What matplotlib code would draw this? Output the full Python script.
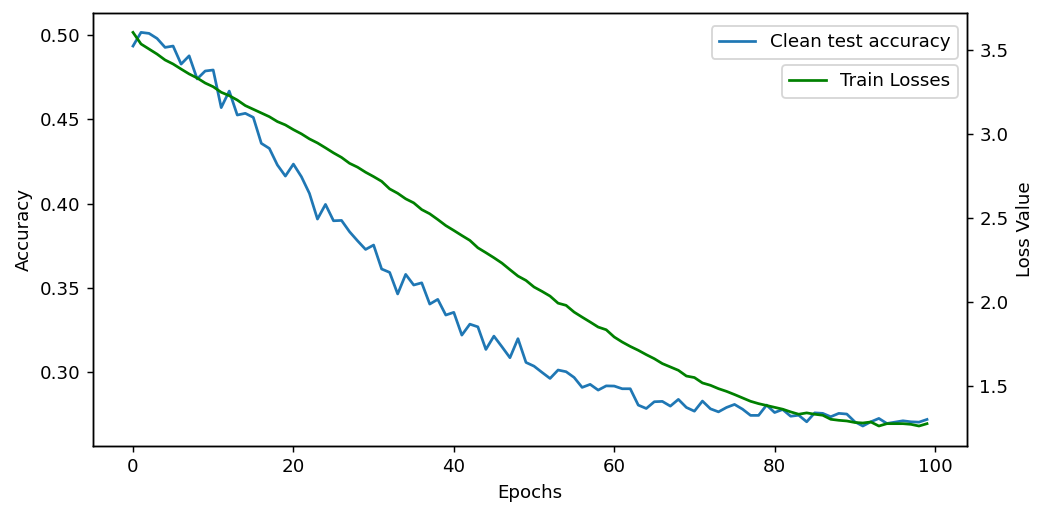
import matplotlib
matplotlib.use("Agg")
import matplotlib.pyplot as plt
import numpy as np

# Per-epoch clean test accuracy
accuracy = [
    0.4935, 0.5016, 0.5010, 0.4980, 0.4927, 0.4935, 0.4828, 0.4877, 0.4740, 0.4787,
    0.4793, 0.4570, 0.4668, 0.4526, 0.4536, 0.4512, 0.4358, 0.4328, 0.4230, 0.4164,
    0.4235, 0.4160, 0.4061, 0.3909, 0.3996, 0.3899, 0.3901, 0.3834, 0.3780, 0.3729,
    0.3755, 0.3613, 0.3593, 0.3465, 0.3581, 0.3518, 0.3531, 0.3405, 0.3433, 0.3340,
    0.3356, 0.3221, 0.3286, 0.3270, 0.3136, 0.3215, 0.3152, 0.3087, 0.3200, 0.3059,
    0.3037, 0.3000, 0.2964, 0.3014, 0.3004, 0.2970, 0.2911, 0.2929, 0.2895, 0.2920,
    0.2919, 0.2903, 0.2903, 0.2806, 0.2786, 0.2826, 0.2828, 0.2800, 0.2840, 0.2792,
    0.2770, 0.2830, 0.2784, 0.2766, 0.2792, 0.2810, 0.2782, 0.2745, 0.2745, 0.2806,
    0.2762, 0.2780, 0.2740, 0.2746, 0.2707, 0.2760, 0.2757, 0.2737, 0.2757, 0.2753,
    0.2707, 0.2682, 0.2707, 0.2727, 0.2697, 0.2705, 0.2713, 0.2707, 0.2705, 0.2721,
]

# Per-epoch training loss
train_loss = [
    3.603, 3.534, 3.504, 3.474, 3.439, 3.415, 3.385, 3.356, 3.332, 3.302,
    3.280, 3.247, 3.227, 3.201, 3.168, 3.146, 3.124, 3.102, 3.073, 3.053,
    3.025, 3.000, 2.970, 2.946, 2.917, 2.887, 2.860, 2.825, 2.802, 2.772,
    2.746, 2.718, 2.673, 2.647, 2.614, 2.590, 2.550, 2.525, 2.491, 2.455,
    2.426, 2.396, 2.367, 2.323, 2.294, 2.264, 2.232, 2.193, 2.155, 2.129,
    2.090, 2.064, 2.036, 1.994, 1.981, 1.941, 1.911, 1.882, 1.852, 1.836,
    1.793, 1.763, 1.737, 1.714, 1.688, 1.664, 1.635, 1.615, 1.595, 1.561,
    1.552, 1.520, 1.506, 1.486, 1.470, 1.451, 1.431, 1.411, 1.397, 1.386,
    1.375, 1.364, 1.348, 1.334, 1.342, 1.334, 1.328, 1.304, 1.298, 1.294,
    1.285, 1.282, 1.288, 1.264, 1.278, 1.278, 1.278, 1.274, 1.264, 1.278,
]

epochs = np.arange(len(accuracy))

DPI = 131
W, H = 1046, 505
fig = plt.figure(figsize=(W / DPI, H / DPI), dpi=DPI)
ax1 = fig.add_axes([93.3 / W, 1 - 445.7 / H, (966.7 - 93.3) / W, (445.7 - 12.7) / H])

ax1.plot(epochs, accuracy, color="#1f77b4", lw=1.5, label="Clean test accuracy")
ax1.set_xlabel("Epochs")
ax1.set_ylabel("Accuracy")
ax1.legend(loc="upper right", bbox_to_anchor=(1, 0.99))

ax2 = ax1.twinx()
ax2.plot(epochs, train_loss, color="green", lw=1.5, label="Train Losses")
ax2.set_ylabel("Loss Value")
ax2.legend(loc="upper right", bbox_to_anchor=(1, 0.9))

fig.savefig("out.png", dpi=DPI)
